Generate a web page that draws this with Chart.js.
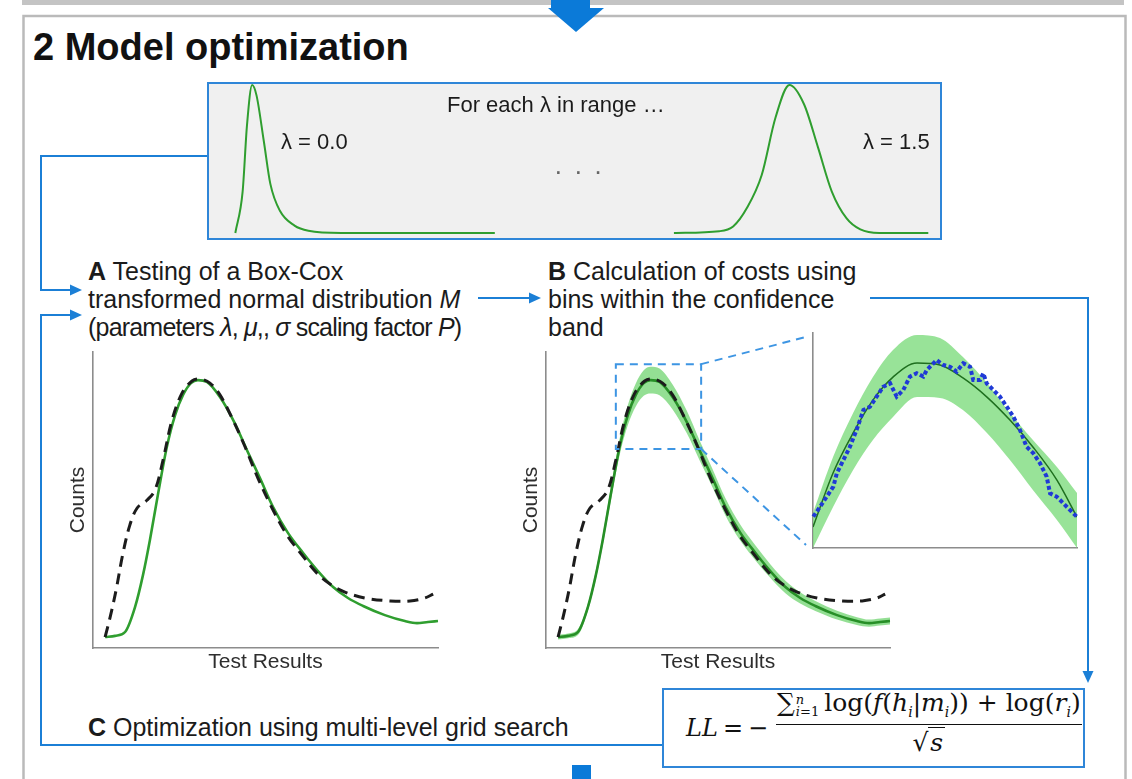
<!DOCTYPE html>
<html>
<head>
<meta charset="utf-8">
<title>2 Model optimization</title>
<script src="https://cdn.jsdelivr.net/npm/chart.js@4.4.1/dist/chart.umd.min.js"></script>
<style>
  html, body { margin: 0; padding: 0; background: #fff; }
  body {
    width: 1132px; height: 779px; position: relative; overflow: hidden;
    font-family: "Liberation Sans", Arial, Helvetica, sans-serif; color: #1b1b1b;
  }
  canvas { position: absolute; }
  .txt { position: absolute; white-space: nowrap; font-size: 25px; line-height: 28px; }
  .panel { position: absolute; box-sizing: border-box; border: 2px solid #2f86d8; }
  .math { position: absolute; white-space: nowrap; font-family: "DejaVu Serif", "Liberation Serif", serif; font-size: 25px; line-height: 30px; color: #111; }
  .math i { font-style: italic; }
  .math sub { font-size: 14px; line-height: 0; }
  .lim { display: inline-block; vertical-align: -5px; font-size: 13px; line-height: 12px; margin: 0 5px 0 1px; text-align: left; }
  .lim span { display: block; }
  .frac { position: absolute; text-align: center; }
  .frac .num { border-bottom: 1.6px solid #111; padding: 0 1px 6px 1px; line-height: 30px; }
  .frac .den { line-height: 36px; }
  #wires { position: absolute; left: 0; top: 0; z-index: 5; pointer-events: none; }
</style>
</head>
<body>

<!-- framed step -->
<div class="txt" style="left:33px;top:25px;font-size:38px;line-height:44px;font-weight:bold;color:#111;">2 Model optimization</div>

<!-- lambda sweep panel -->
<div class="panel" style="left:207px;top:82px;width:735px;height:158px;background:#f0f0f0;"></div>
<canvas id="lambdaChart" width="731" height="154" style="left:209px;top:84px;"></canvas>
<div class="txt" style="left:447px;top:92px;font-size:22px;line-height:26px;">For each λ in range …</div>
<div class="txt" style="left:281px;top:129px;font-size:22px;line-height:26px;">λ = 0.0</div>
<div class="txt" style="left:863px;top:129px;font-size:22px;line-height:26px;">λ = 1.5</div>
<div class="txt" style="left:554px;top:157px;font-size:26px;line-height:28px;color:#666;letter-spacing:2px;">· · ·</div>

<!-- step texts -->
<div class="txt" style="left:88px;top:257px;">
  <b>A</b> Testing of a Box-Cox<br>
  transformed normal distribution <i>M</i><br>
  <span style="letter-spacing:-0.8px">(parameters <i>λ</i>, <i>μ</i>,, <i>σ</i> scaling factor <i>P</i>)</span>
</div>
<div class="txt" style="left:548px;top:257px;">
  <b>B</b> Calculation of costs using<br>
  bins within the confidence<br>
  band
</div>
<div class="txt" style="left:88px;top:713px;"><b>C</b> Optimization using multi-level grid search</div>

<!-- fit charts -->
<canvas id="fitChart" width="380" height="332" style="left:64px;top:346px;"></canvas>
<canvas id="bandChart" width="379" height="332" style="left:517px;top:346px;"></canvas>
<canvas id="insetChart" width="276" height="227" style="left:807px;top:327px;"></canvas>

<!-- cost formula -->
<div class="panel" style="left:662px;top:688px;width:423px;height:80px;background:#fff;"></div>
<div class="math" style="left:686px;top:713px;font-size:24px;"><i>LL</i><span style="margin:0 5px">=</span>−</div>
<div class="frac math" style="left:776px;top:688px;">
  <div class="num">∑<span class="lim"><span><i>n</i></span><span><i>i</i>=1</span></span>log(<i>f</i>(<i>h</i><sub><i>i</i></sub>|<i>m</i><sub><i>i</i></sub>)) + log(<i>r</i><sub><i>i</i></sub>)</div>
  <div class="den">√<span style="border-top:1.5px solid #111;padding:0 2px;"><i>s</i></span></div>
</div>

<svg id="wires" width="1132" height="779">
  <!-- page frame -->
  <rect x="22" y="0" width="1102" height="5" fill="#c4c4c4"/>
  <rect x="23.5" y="16" width="1102" height="800" fill="none" stroke="#bababa" stroke-width="2.5"/>
  <!-- incoming step arrow -->
  <rect x="551" y="0" width="39" height="9" fill="#0b7ad8"/>
  <polygon points="548,8 604,8 576,32" fill="#0b7ad8"/>
  <!-- outgoing step arrow -->
  <rect x="572" y="765" width="19" height="20" fill="#0b7ad8"/>
  <g stroke="#1b7fd6" stroke-width="2" fill="none">
    <path d="M207,156 H41 V290 H72"/>
    <path d="M662,745 H41 V315 H72"/>
    <path d="M478,298 H531"/>
    <path d="M870,298 H1088 V673"/>
  </g>
  <g fill="#1b7fd6">
    <polygon points="70,284.5 82,290 70,295.5"/>
    <polygon points="70,309.5 82,315 70,320.5"/>
    <polygon points="529,292.5 541,298 529,303.5"/>
    <polygon points="1082.5,671 1093.5,671 1088,683"/>
  </g>
  <g id="leaders" stroke="#3d95e3" stroke-width="2" stroke-dasharray="8,6" fill="none"></g>
</svg>

<script>
// ---- lambda sweep: Box-Cox shapes at the two ends of the range ----
const lambdaLowX  = [3.6, 4.6, 5.2, 5.9, 6.5, 7.5, 8.4, 9.7, 11.7, 13.6, 18.1, 39.1];
const lambdaLowY  = [0, 28, 73, 100, 93, 62, 33, 15, 5, 1.5, 0, 0];
const lambdaHighX = [63.6, 69.8, 71.7, 73.6, 75.6, 77.5, 79.4, 81.4, 83.3, 85.2, 87.2, 89.1, 91.7, 98.4];
const lambdaHighY = [0, 1.2, 4.4, 17, 39, 78, 100, 87, 58, 28, 10, 2.4, 0, 0];

// ---- fitted model M versus observed counts ----
const modelX = [3.5, 6.4, 9.3, 12.2, 14.5, 16.5, 18.8, 21.4, 23.8, 26.1, 28.4, 30.4, 33.0, 36.8, 40.9, 44.6, 48.4, 52.2, 56.5, 60.9, 65.2, 69.6, 73.9, 78.3, 84.6, 90.4, 93.9, 97.1, 100];
const modelY = [3.7, 4.1, 5.4, 13.9, 24.7, 36.5, 51.7, 67.9, 78.7, 85.5, 89.5, 90.5, 89.9, 84.8, 76.4, 66.9, 57.4, 47.6, 38.9, 32.1, 26.0, 20.6, 16.9, 14.2, 11.1, 9.1, 8.4, 8.8, 9.1];
const observedX = [3.5, 4.9, 6.7, 8.7, 10.7, 12.8, 15.7, 18.0, 20.3, 22.9, 25.8, 28.7, 31.0, 33.9, 36.8, 40.3, 44.1, 47.8, 51.9, 56.2, 60.6, 64.9, 68.7, 73.0, 78.8, 86.1, 91.9, 96.2, 98.6];
const observedY = [3.7, 10.1, 19.6, 32.1, 41.6, 47.3, 50.0, 53.4, 63.5, 77.0, 86.1, 90.2, 90.9, 89.5, 85.5, 77.7, 67.9, 57.4, 47.3, 38.2, 31.4, 25.3, 21.6, 18.9, 16.9, 15.9, 15.9, 16.9, 18.2];

// confidence band around the model (same x positions as modelX)
const bandUpper = [4.5, 4.9, 6.4, 15.1, 26.2, 38.3, 53.9, 70.7, 82.1, 89.4, 93.8, 95.0, 94.4, 89.0, 80.2, 70.3, 60.5, 50.5, 41.6, 34.6, 28.3, 22.7, 18.8, 15.9, 12.6, 10.4, 9.6, 10.0, 10.3];
const bandLower = [2.9, 3.3, 4.4, 12.7, 23.2, 34.7, 49.5, 65.1, 75.3, 81.6, 85.2, 86.0, 85.4, 80.6, 72.6, 63.5, 54.3, 44.7, 36.2, 29.6, 23.7, 18.5, 15.0, 12.5, 9.6, 7.8, 7.2, 7.6, 7.9];

// region around the peak that is enlarged in the inset
const zoomWindowX = [20.3, 45.1];
const zoomWindowY = [67.2, 95.9];

// ---- inset: bins near the peak ----
const insetX      = [0, 7.6, 15.2, 22.7, 30.3, 39.4, 48.1, 56.8, 65.9, 74.6, 83.3, 92.4, 100];
const insetModel  = [9.8, 34.9, 53.5, 68.8, 79.5, 86.0, 85.1, 79.1, 70.2, 59.5, 47.0, 31.6, 14.4];
const insetUpper  = [16.3, 42.3, 62.8, 79.5, 92.1, 99.1, 97.7, 88.8, 76.7, 62.8, 50.2, 37.7, 25.6];
const insetLower  = [0, 19.1, 36.3, 50.2, 60.9, 70.2, 69.8, 64.2, 53.5, 40.9, 27.0, 13.0, 0];
const insetBinX = [0.1, 2.7, 5.2, 7.7, 9.0, 11.5, 14.0, 16.5, 19.1, 21.6, 24.1, 26.6, 29.2, 31.7, 34.2, 36.7, 39.3, 41.8, 43.1, 45.6, 46.8, 49.4, 51.9, 54.4, 56.9, 59.5, 60.7, 63.3, 64.5, 65.8, 68.3, 70.8, 73.4, 75.9, 78.4, 80.9, 83.5, 86.0, 88.5, 89.8, 92.3, 94.8, 97.3, 99.9];
const insetBinY = [14.6, 19.2, 23.9, 28.5, 34.7, 40.9, 47.1, 54.9, 64.2, 65.7, 70.4, 75.0, 76.6, 70.4, 73.5, 79.7, 81.3, 79.7, 82.8, 85.9, 87.4, 85.1, 84.3, 82.0, 85.9, 84.3, 78.1, 78.1, 81.3, 76.6, 73.5, 70.4, 65.7, 61.1, 54.9, 47.1, 44.0, 39.4, 33.2, 25.4, 23.9, 20.8, 17.7, 14.6];

const FONT = '"Liberation Sans", Arial, sans-serif';
Chart.defaults.font.family = FONT;
Chart.defaults.animation = false;
Chart.defaults.responsive = false;
Chart.defaults.plugins.legend.display = false;
Chart.defaults.plugins.tooltip.enabled = false;

const pts = (xs, ys) => xs.map((x, i) => ({ x, y: ys[i] }));

const GREEN = '#2f9e2f';
const BAND = 'rgba(118, 214, 118, 0.78)';

function hiddenScale(min, max) {
  return { type: 'linear', min, max, display: false };
}

function axisScale(title, padding) {
  return {
    type: 'linear', min: 0, max: 100,
    grid: { display: false, drawTicks: false },
    ticks: { display: false },
    border: { display: true, color: '#8c8c8c', width: 1.6 },
    title: title ? { display: true, text: title, color: '#2e2e2e', font: { size: 21 }, padding } : { display: false }
  };
}

// lambda sweep
new Chart(document.getElementById('lambdaChart'), {
  type: 'line',
  data: {
    datasets: [
      { label: 'λ = 0.0', data: pts(lambdaLowX, lambdaLowY), borderColor: GREEN, borderWidth: 2, pointRadius: 0, cubicInterpolationMode: 'monotone', clip: false },
      { label: 'λ = 1.5', data: pts(lambdaHighX, lambdaHighY), borderColor: GREEN, borderWidth: 2, pointRadius: 0, cubicInterpolationMode: 'monotone', clip: false }
    ]
  },
  options: {
    layout: { padding: { top: 1, bottom: 5, left: 0, right: 0 } },
    scales: { x: hiddenScale(0, 100), y: hiddenScale(0, 100) }
  }
});

const zoomWindowPlugin = {
  id: 'zoomWindow',
  afterDatasetsDraw(chart) {
    const { ctx, scales: { x, y } } = chart;
    const x0 = x.getPixelForValue(zoomWindowX[0]), x1 = x.getPixelForValue(zoomWindowX[1]);
    const y0 = y.getPixelForValue(zoomWindowY[1]), y1 = y.getPixelForValue(zoomWindowY[0]);
    ctx.save();
    ctx.strokeStyle = '#3d95e3';
    ctx.lineWidth = 2;
    ctx.setLineDash([8, 6]);
    ctx.strokeRect(x0, y0, x1 - x0, y1 - y0);
    ctx.restore();
  }
};

function fitChart(id, withBand) {
  const datasets = [
    { label: 'Observed', data: pts(observedX, observedY), borderColor: '#1c1c1c', borderWidth: 3, borderDash: [11, 7], pointRadius: 0, tension: 0.35, order: 1, clip: false },
    { label: 'Model M', data: pts(modelX, modelY), borderColor: withBand ? '#278f27' : GREEN, borderWidth: 2.6, pointRadius: 0, cubicInterpolationMode: 'monotone', order: 2, clip: false }
  ];
  if (withBand) {
    datasets.push(
      { label: 'Band upper', data: pts(modelX, bandUpper), fill: '+1', backgroundColor: BAND, borderWidth: 0, pointRadius: 0, cubicInterpolationMode: 'monotone', order: 3 },
      { label: 'Band lower', data: pts(modelX, bandLower), fill: false, borderWidth: 0, pointRadius: 0, cubicInterpolationMode: 'monotone', order: 3 }
    );
  }
  return new Chart(document.getElementById(id), {
    type: 'line',
    data: { datasets },
    options: {
      layout: { padding: { left: 1.8, top: 6, right: 6, bottom: 2.8 } },
      scales: {
        x: axisScale('Test Results', { top: 2, bottom: 0 }),
        y: axisScale('Counts', { top: 0, bottom: 2 })
      }
    },
    plugins: withBand ? [zoomWindowPlugin] : []
  });
}

fitChart('fitChart', false);
const bandChart = fitChart('bandChart', true);

const insetChart = new Chart(document.getElementById('insetChart'), {
  type: 'line',
  data: {
    datasets: [
      { label: 'Band upper', data: pts(insetX, insetUpper), fill: '+1', backgroundColor: 'rgba(126, 220, 126, 0.8)', borderWidth: 0, pointRadius: 0, cubicInterpolationMode: 'monotone', order: 3 },
      { label: 'Band lower', data: pts(insetX, insetLower), fill: false, borderWidth: 0, pointRadius: 0, cubicInterpolationMode: 'monotone', order: 3 },
      { label: 'Model M', data: pts(insetX, insetModel), borderColor: '#1f6f1f', borderWidth: 1.5, pointRadius: 0, cubicInterpolationMode: 'monotone', order: 2 },
      { label: 'Bins', data: pts(insetBinX, insetBinY), borderColor: '#1f3ad6', borderWidth: 4, borderDash: [4, 2.5], pointRadius: 0, tension: 0, order: 1, clip: false }
    ]
  },
  options: {
    layout: { padding: 6 },
    scales: { x: axisScale(null), y: axisScale(null) }
  }
});

// dashed leader lines from the zoom window to the inset
(function drawLeaders() {
  const bc = document.getElementById('bandChart');
  const ic = document.getElementById('insetChart');
  const bx = bc.offsetLeft, by = bc.offsetTop;
  const ix = ic.offsetLeft, iy = ic.offsetTop;
  const sx = bandChart.scales.x, sy = bandChart.scales.y;
  const rx = bx + sx.getPixelForValue(zoomWindowX[1]);
  const rTop = by + sy.getPixelForValue(zoomWindowY[1]);
  const rBot = by + sy.getPixelForValue(zoomWindowY[0]);
  const a = insetChart.chartArea;
  const lx = ix + a.left - 7;
  const g = document.getElementById('leaders');
  const mk = (x1, y1, x2, y2) => {
    const l = document.createElementNS('http://www.w3.org/2000/svg', 'line');
    l.setAttribute('x1', x1); l.setAttribute('y1', y1);
    l.setAttribute('x2', x2); l.setAttribute('y2', y2);
    g.appendChild(l);
  };
  mk(rx, rTop, lx, iy + a.top + 4);
  mk(rx, rBot, lx, iy + a.bottom - 3);
})();
</script>
</body>
</html>
